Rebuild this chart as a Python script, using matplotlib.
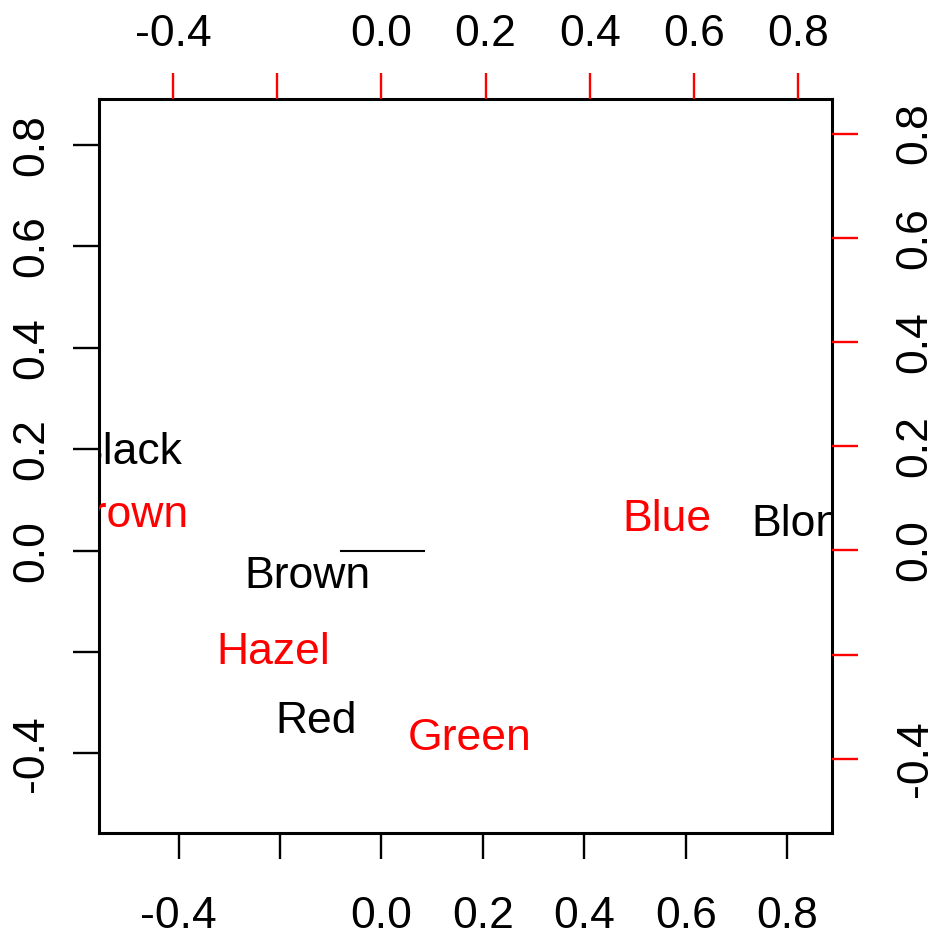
import matplotlib
matplotlib.use("Agg")
import matplotlib.pyplot as plt

plt.rcParams['font.family'] = ['Liberation Sans', 'DejaVu Sans']
plt.rcParams['font.size'] = 32

# row (hair) and column (eye) scores
hair = ['Black', 'Brown', 'Red', 'Blond']
hair_x = [-0.500, -0.147, -0.129, 0.842]
hair_y = [0.203, -0.042, -0.329, 0.061]

eye = ['Brown', 'Blue', 'Hazel', 'Green']
eye_x = [-0.491, 0.549, -0.208, 0.169]
eye_y = [0.076, 0.067, -0.187, -0.353]

ticks = [-0.4, -0.2, 0.0, 0.2, 0.4, 0.6, 0.8]
tick_labels = ['-0.4', '', '0.0', '0.2', '0.4', '0.6', '0.8']

fig = plt.figure(figsize=(9.37, 9.38), dpi=100)
pos = [0.1057, 0.1119, 0.7823, 0.7826]

ax = fig.add_axes(pos)
ax.set_xlim(-0.557, 0.8886)
ax.set_ylim(-0.557, 0.8905)
ax.set_xticks(ticks)
ax.set_xticklabels(tick_labels)
ax.set_yticks(ticks)
ax.set_yticklabels(tick_labels, rotation=90, va='center')
ax.tick_params(axis='x', length=19, width=1.7, pad=26)
ax.tick_params(axis='y', length=19, width=1.7, pad=15)
for s in ax.spines.values():
    s.set_linewidth(2.2)

for lab, x, y in zip(hair, hair_x, hair_y):
    ax.text(x, y, lab, ha='center', va='center_baseline', color='black', clip_on=True)
ax.plot([-0.080, 0.084], [0.0, 0.0], color='black', lw=1.5)

# second set of axes for the eye scores, scaled separately
ax2 = fig.add_axes(pos, frameon=False)
ax2.set_xlim(-0.542, 0.865)
ax2.set_ylim(-0.5424, 0.8664)
ax2.xaxis.tick_top()
ax2.yaxis.tick_right()
ax2.set_xticks(ticks)
ax2.set_xticklabels(tick_labels)
ax2.set_yticks(ticks)
ax2.set_yticklabels(tick_labels, rotation=90, va='center')
ax2.tick_params(axis='x', length=19, width=1.7, pad=13, color='red', labelcolor='black')
ax2.tick_params(axis='y', length=19, width=1.7, pad=26, color='red', labelcolor='black')

for lab, x, y in zip(eye, eye_x, eye_y):
    ax2.text(x, y, lab, ha='center', va='center_baseline', color='red', clip_on=True)

fig.savefig('out.png', dpi=100)
